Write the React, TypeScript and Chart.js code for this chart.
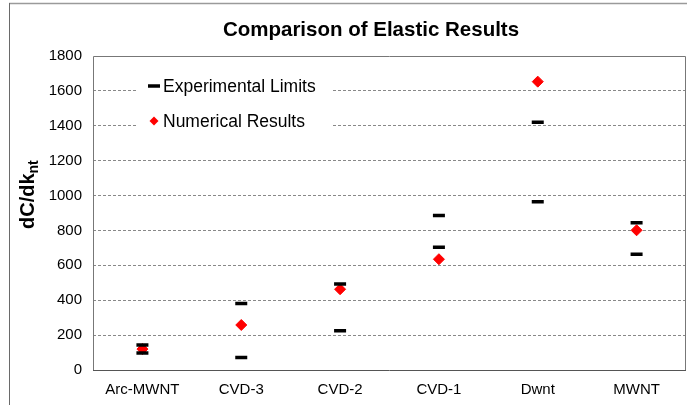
import React, { useEffect, useRef } from 'react';
import { Chart, registerables } from 'chart.js';

Chart.register(...registerables);

// Measured ranges and simulated values per nanotube sample
const categories = ['Arc-MWNT', 'CVD-3', 'CVD-2', 'CVD-1', 'Dwnt', 'MWNT'];
const expUpper = [143, 381, 493, 885, 1420, 844];
const expLower = [97, 71, 225, 703, 965, 663];
const numerical = [120, 258, 463, 635, 1653, 801];

const Y_MIN = 0;
const Y_MAX = 1800;
const Y_STEP = 200;

const TITLE = 'Comparison of Elastic Results';
const Y_TITLE_MAIN = 'dC/dk';
const Y_TITLE_SUB = 'nt';
const LEGEND_EXP = 'Experimental Limits';
const LEGEND_NUM = 'Numerical Results';

const FONT = "'Liberation Sans', Arial, Helvetica, sans-serif";

const decorPlugin = {
  id: 'decor',
  beforeDraw(chart: any) {
    const { ctx, width, height } = chart;
    ctx.save();
    ctx.fillStyle = '#ffffff';
    ctx.fillRect(0, 0, width, height);
    // outer frame (top and left edges)
    ctx.strokeStyle = '#9a9a9a';
    ctx.lineWidth = 1.5;
    ctx.beginPath();
    ctx.moveTo(9, 3.5);
    ctx.lineTo(width, 3.5);
    ctx.stroke();
    ctx.strokeStyle = '#6a6a6a';
    ctx.lineWidth = 1;
    ctx.beginPath();
    ctx.moveTo(9.5, 3);
    ctx.lineTo(9.5, height);
    ctx.stroke();
    ctx.restore();
  },
  beforeDatasetsDraw(chart: any) {
    const { ctx, chartArea: a } = chart;
    ctx.save();
    ctx.lineWidth = 1;
    ctx.strokeStyle = '#777777';
    ctx.beginPath();
    ctx.moveTo(a.left + 0.5, a.bottom);
    ctx.lineTo(a.left + 0.5, a.top + 0.5);
    ctx.lineTo(a.right - 0.5, a.top + 0.5);
    ctx.lineTo(a.right - 0.5, a.bottom);
    ctx.stroke();
    ctx.strokeStyle = '#555555';
    ctx.beginPath();
    ctx.moveTo(a.left, a.bottom + 0.5);
    ctx.lineTo(a.right, a.bottom + 0.5);
    ctx.stroke();
    ctx.restore();
  },
  afterDraw(chart: any) {
    const { ctx } = chart;
    ctx.save();
    ctx.fillStyle = '#000000';

    // chart title
    ctx.font = `bold 20.5px ${FONT}`;
    ctx.textAlign = 'center';
    ctx.textBaseline = 'alphabetic';
    ctx.fillText(TITLE, 371, 35.5);

    // y-axis title with subscript
    ctx.save();
    ctx.translate(33.5, 229);
    ctx.rotate(-Math.PI / 2);
    ctx.textAlign = 'left';
    ctx.font = `bold 20px ${FONT}`;
    ctx.fillText(Y_TITLE_MAIN, 0, 0);
    const w = ctx.measureText(Y_TITLE_MAIN).width;
    ctx.font = `bold 14px ${FONT}`;
    ctx.fillText(Y_TITLE_SUB, w, 4);
    ctx.restore();

    // legend inside the plot area
    ctx.fillStyle = '#ffffff';
    ctx.fillRect(137, 70, 194, 66);
    ctx.strokeStyle = '#000000';
    ctx.lineWidth = 3.5;
    ctx.beginPath();
    ctx.moveTo(148, 86);
    ctx.lineTo(160, 86);
    ctx.stroke();
    ctx.fillStyle = '#ff0000';
    ctx.beginPath();
    ctx.moveTo(154, 116.5);
    ctx.lineTo(158.5, 121);
    ctx.lineTo(154, 125.5);
    ctx.lineTo(149.5, 121);
    ctx.closePath();
    ctx.fill();
    ctx.fillStyle = '#000000';
    ctx.font = `17.5px ${FONT}`;
    ctx.textAlign = 'left';
    ctx.fillText(LEGEND_EXP, 163, 92.3);
    ctx.fillText(LEGEND_NUM, 163, 127);
    ctx.restore();
  },
};

export default function App() {
  const canvasRef = useRef<HTMLCanvasElement | null>(null);

  useEffect(() => {
    document.body.style.margin = '0';
    const canvas = canvasRef.current;
    if (!canvas) return;

    const limitStyle = {
      type: 'line' as const,
      showLine: false,
      pointStyle: 'line' as const,
      pointRadius: 6,
      pointHoverRadius: 6,
      borderColor: '#000000',
      backgroundColor: '#000000',
      pointBorderWidth: 3.5,
      borderWidth: 3.5,
    };

    const chart = new Chart(canvas, {
      type: 'line',
      data: {
        labels: categories,
        datasets: [
          { ...limitStyle, label: LEGEND_EXP, data: expUpper },
          { ...limitStyle, label: LEGEND_EXP + ' (lower)', data: expLower },
          {
            type: 'line',
            label: LEGEND_NUM,
            data: numerical,
            showLine: false,
            pointStyle: 'rectRot',
            pointRadius: 5.5,
            pointHoverRadius: 5.5,
            pointBackgroundColor: '#ff0000',
            pointBorderColor: '#ff0000',
            pointBorderWidth: 1,
            borderColor: '#ff0000',
            backgroundColor: '#ff0000',
          },
        ],
      },
      options: {
        responsive: false,
        animation: false,
        events: [],
        layout: { autoPadding: false, padding: { top: 56, right: 1, bottom: 0, left: 0 } },
        plugins: {
          legend: { display: false },
          title: { display: false },
          tooltip: { enabled: false },
        },
        scales: {
          x: {
            type: 'category',
            offset: true,
            grid: { display: false, drawTicks: false },
            border: { display: false },
            ticks: {
              color: '#000000',
              font: { family: FONT, size: 15 },
              padding: 11,
              maxRotation: 0,
              autoSkip: false,
            },
            afterFit(scale: any) {
              scale.height = 35;
              scale.paddingLeft = 0;
              scale.paddingRight = 0;
            },
          },
          y: {
            min: Y_MIN,
            max: Y_MAX,
            grid: {
              drawTicks: false,
              lineWidth: 1,
              color: (c: any) =>
                c.tick && (c.tick.value === Y_MIN || c.tick.value === Y_MAX)
                  ? 'rgba(0,0,0,0)'
                  : '#888888',
            },
            border: { display: false, dash: [3, 2] },
            ticks: {
              stepSize: Y_STEP,
              color: '#000000',
              font: { family: FONT, size: 15 },
              padding: 11,
              callback: (v: any) => String(v),
            },
            afterFit(scale: any) {
              scale.width = 93;
            },
          },
        },
      },
      plugins: [decorPlugin],
    });

    return () => chart.destroy();
  }, []);

  return (
    <div style={{ width: 687, height: 405 }}>
      <canvas ref={canvasRef} width={687} height={405} style={{ display: 'block' }} />
    </div>
  );
}
